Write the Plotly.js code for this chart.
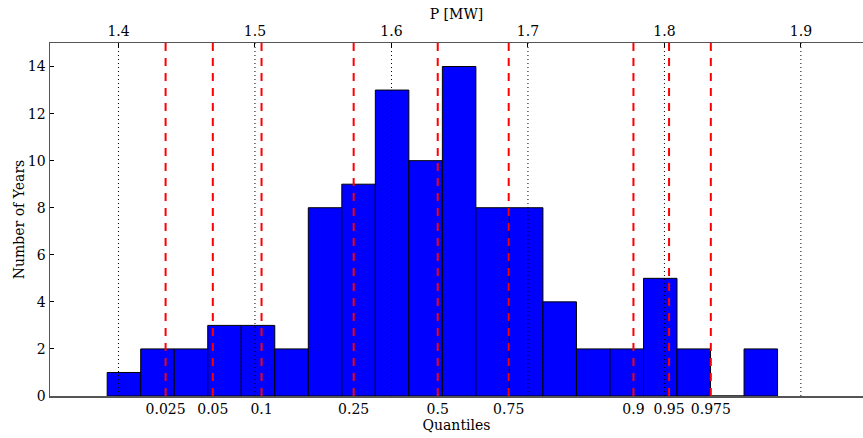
<!DOCTYPE html>
<html>
<head>
<meta charset="utf-8">
<script src="https://cdn.plot.ly/plotly-3.0.1.min.js"></script>
<style>html,body{margin:0;padding:0;background:#fff;}#chart{width:863px;height:438px;}</style>
</head>
<body>
<div id="chart"></div>
<script>
// Histogram of annual mean power (MW), 100 years
const binStart = 1.3917;
const binWidth = 0.02456;
const counts = [1, 2, 2, 3, 3, 2, 8, 9, 13, 10, 14, 8, 8, 4, 2, 2, 5, 2, 0, 2];

// Quantiles (bottom axis)
const quantileLabels = ["0.025", "0.05", "0.1", "0.25", "0.5", "0.75", "0.9", "0.95", "0.975"];
const quantileValues = [1.4345, 1.4691, 1.5048, 1.5723, 1.6339, 1.6859, 1.7773, 1.8034, 1.8340];

// Top axis ticks (P [MW])
const powerTicks = [1.4, 1.5, 1.6, 1.7, 1.8, 1.9];

const xRange = [1.3498, 1.9455];
const yRange = [0, 15];

const font = {family: "DejaVu Serif, serif", size: 14, color: "#000"};

const binLefts = counts.map((_, i) => binStart + i * binWidth);

const traces = [];
traces.push({
  type: "bar",
  x: binLefts,
  y: counts,
  width: counts.map(() => binWidth),
  offset: 0,
  marker: {color: "#0000ff", line: {color: "#000", width: 1}},
  xaxis: "x", yaxis: "y",
  hoverinfo: "skip"
});
quantileValues.forEach(q => {
  traces.push({
    type: "scatter", mode: "lines",
    x: [q, q], y: yRange,
    line: {color: "#ff0000", width: 2, dash: "8px,7px"},
    xaxis: "x", yaxis: "y", hoverinfo: "skip"
  });
});
powerTicks.forEach(p => {
  traces.push({
    type: "scatter", mode: "lines",
    x: [p, p], y: yRange,
    line: {color: "#000", width: 1, dash: "1px,3px"},
    xaxis: "x2", yaxis: "y", hoverinfo: "skip"
  });
});

const axisLine = {showline: true, linecolor: "#555", linewidth: 1.5};

const layout = {
  width: 863, height: 438,
  margin: {l: 50, r: 0, t: 43, b: 42, pad: 0},
  paper_bgcolor: "#fff", plot_bgcolor: "#fff",
  showlegend: false, hovermode: false,
  font: font,
  bargap: 0,
  xaxis: Object.assign({}, axisLine, {
    range: xRange, side: "bottom",
    tickmode: "array", tickvals: quantileValues, ticktext: quantileLabels,
    ticks: "", showgrid: false, zeroline: false,
    tickfont: font,
    title: {text: "Quantiles", font: font, standoff: 2}
  }),
  xaxis2: Object.assign({}, axisLine, {
    range: xRange, side: "top", overlaying: "x", anchor: "y",
    tickmode: "array", tickvals: powerTicks, ticktext: powerTicks.map(v => v.toFixed(1)),
    ticks: "inside", ticklen: 4, tickcolor: "#000",
    showgrid: false, zeroline: false,
    tickfont: font,
    title: {text: "P [MW]", font: font, standoff: 0}
  }),
  yaxis: Object.assign({}, axisLine, {
    range: yRange, tickmode: "array", tickvals: [0, 2, 4, 6, 8, 10, 12, 14],
    ticks: "inside", ticklen: 4, tickcolor: "#000",
    showgrid: false, zeroline: false,
    tickfont: font,
    title: {text: "Number of Years", font: font, standoff: 0}
  })
};

Plotly.newPlot("chart", traces, layout, {displayModeBar: false, staticPlot: true});
</script>
</body>
</html>
